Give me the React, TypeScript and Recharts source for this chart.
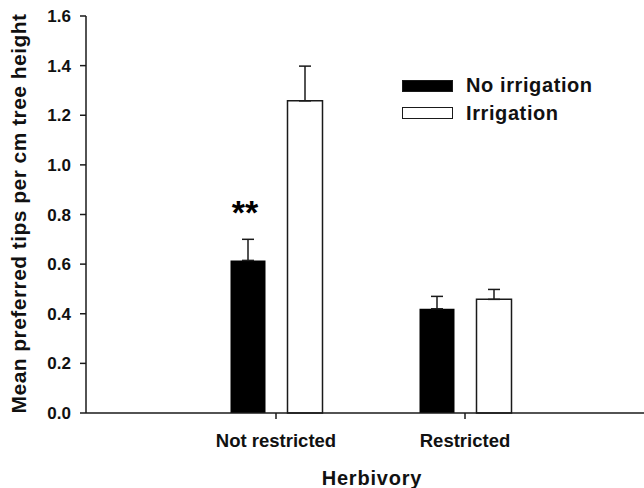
import React from 'react';
import { Bar, BarChart, ErrorBar, Label, LabelList, Legend, XAxis, YAxis } from 'recharts';

const categories = ['Not restricted', 'Restricted'];
const seriesNames = ['No irrigation', 'Irrigation'];
const noIrrigation = [0.615, 0.42];
const noIrrigationErr = [0.085, 0.05];
const irrigation = [1.258, 0.458];
const irrigationErr = [0.14, 0.04];
const significance = ['**', ''];
const yTicks = [0, 0.2, 0.4, 0.6, 0.8, 1.0, 1.2, 1.4, 1.6];

const data = categories.map((name, i) => ({
	name,
	noIrr: noIrrigation[i],
	noIrrErr: [0, noIrrigationErr[i]],
	irr: irrigation[i],
	irrErr: [0, irrigationErr[i]],
	sig: significance[i],
}));

const FONT = '"Liberation Sans", Arial, sans-serif';
const INK = '#1a1a1a';
const swatches = ['#000', '#fff'];

const LegendBox = () => (
	<div style={{ fontFamily: FONT, fontWeight: 'bold', fontSize: 20, letterSpacing: 0.6, color: '#111' }}>
		{seriesNames.map((label, i) => (
			<div key={label} style={{ display: 'flex', alignItems: 'center', height: 27.5 }}>
				<div
					style={{
						width: 51,
						height: 12,
						boxSizing: 'border-box',
						background: swatches[i],
						border: `1.5px solid ${INK}`,
						marginRight: 13,
					}}
				/>
				<span>{label}</span>
			</div>
		))}
	</div>
);

const Stars = (props: any) => {
	const { x, y, width, value } = props;
	if (!value) return null;
	return (
		<text
			x={x + width / 2 - 3}
			y={y - 36}
			textAnchor="middle"
			fontFamily={FONT}
			fontWeight="bold"
			fontSize={34}
			fill="#000"
		>
			{value}
		</text>
	);
};

const App = () => {
	return (
		<div style={{ position: 'absolute', left: 0, top: 0, width: 644, height: 488, background: '#fff' }}>
			<BarChart
				width={644}
				height={488}
				data={data}
				margin={{ top: 16, right: 0, bottom: 0, left: 0 }}
				barSize={35}
				barGap={22}
			>
				<XAxis
					dataKey="name"
					height={75}
					padding={{ left: 95.5, right: 84.5 }}
					stroke={INK}
					strokeWidth={1.5}
					tickSize={6}
					tickMargin={15}
					tick={{ fontFamily: FONT, fontWeight: 'bold', fontSize: 18.5, fill: '#111' }}
				>
					<Label
						content={(p: any) => {
							const vb = p.viewBox;
							return (
								<text
									x={vb.x + vb.width / 2 + 7}
									y={vb.y + 72}
									textAnchor="middle"
									fontFamily={FONT}
									fontWeight="bold"
									fontSize={20}
									letterSpacing={0.8}
									fill="#111"
								>
									Herbivory
								</text>
							);
						}}
					/>
				</XAxis>
				<YAxis
					width={86}
					domain={[0, 1.6]}
					ticks={yTicks}
					tickFormatter={(v: number) => v.toFixed(1)}
					stroke={INK}
					strokeWidth={1.5}
					tickSize={6}
					tickMargin={9}
					tick={{ fontFamily: FONT, fontWeight: 'bold', fontSize: 17, fill: '#111' }}
				>
					<Label
						content={(p: any) => {
							const vb = p.viewBox;
							const cx = vb.x + 26;
							const cy = vb.y + vb.height / 2 - 1;
							return (
								<text
									x={cx}
									y={cy}
									transform={`rotate(-90, ${cx}, ${cy})`}
									textAnchor="middle"
									fontFamily={FONT}
									fontWeight="bold"
									fontSize={21}
									letterSpacing={0.45}
									fill="#111"
								>
									Mean preferred tips per cm tree height
								</text>
							);
						}}
					/>
				</YAxis>
				<Legend
					content={() => <LegendBox />}
					layout="vertical"
					verticalAlign="middle"
					align="center"
					wrapperStyle={{ position: 'absolute', left: 402, top: 72, width: 'auto', margin: 0 }}
				/>
				<Bar dataKey="noIrr" name={seriesNames[0]} fill="#000" isAnimationActive={false}>
					<ErrorBar dataKey="noIrrErr" width={6} stroke={INK} strokeWidth={1.5} direction="y" />
					<LabelList dataKey="sig" content={Stars} />
				</Bar>
				<Bar dataKey="irr" name={seriesNames[1]} fill="#fff" stroke={INK} strokeWidth={1.5} isAnimationActive={false}>
					<ErrorBar dataKey="irrErr" width={6} stroke={INK} strokeWidth={1.5} direction="y" />
				</Bar>
			</BarChart>
		</div>
	);
};

export default App;
